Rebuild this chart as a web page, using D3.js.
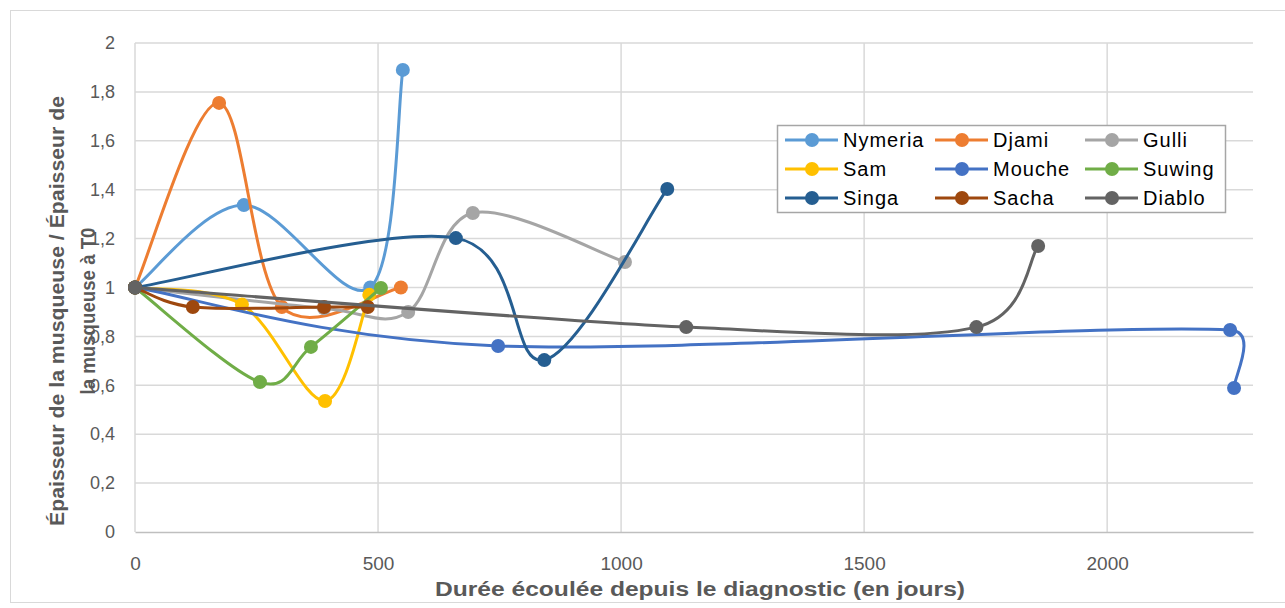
<!DOCTYPE html>
<html lang="fr">
<head>
<meta charset="utf-8">
<script src="https://cdn.jsdelivr.net/npm/d3@7"></script>
<style>
  html, body { margin: 0; padding: 0; background: #fff; }
  svg { display: block; font-family: "Liberation Sans", Arial, sans-serif; }
</style>
</head>
<body>
<svg id="chart" width="1285" height="608"></svg>
<script>
// Relative thickness of the muscularis over time, one array of [days, ratio] per animal
const nymeria = [[0, 1], [224, 1.337], [484, 1.0], [551, 1.89]];
const djami   = [[0, 1], [173, 1.755], [302, 0.92], [547, 1.0]];
const gulli   = [[0, 1], [389, 0.915], [562, 0.90], [695, 1.305], [1008, 1.104]];
const sam     = [[0, 1], [220, 0.93], [391, 0.536], [482, 0.97]];
const mouche  = [[0, 1], [747, 0.761], [2253, 0.826], [2261, 0.589]];
const suwing  = [[0, 1], [257, 0.613], [362, 0.757], [506, 0.998]];
const singa   = [[0, 1], [660, 1.202], [842, 0.703], [1095, 1.403]];
const sacha   = [[0, 1], [119, 0.92], [389, 0.92], [479, 0.92]];
const diablo  = [[0, 1], [1134, 0.838], [1731, 0.838], [1858, 1.17]];

const seriesNames  = ["Nymeria", "Djami", "Gulli", "Sam", "Mouche", "Suwing", "Singa", "Sacha", "Diablo"];
const seriesData   = [nymeria, djami, gulli, sam, mouche, suwing, singa, sacha, diablo];
const seriesColors = ["#5B9BD5", "#ED7D31", "#A5A5A5", "#FFC000", "#4472C4", "#70AD47", "#255E91", "#9E480E", "#636363"];

const xTicks = [0, 500, 1000, 1500, 2000];
const yTicks = [0, 0.2, 0.4, 0.6, 0.8, 1, 1.2, 1.4, 1.6, 1.8, 2];

const xTitle = "Durée écoulée depuis le diagnostic (en jours)";
const yTitleLines = ["Épaisseur  de la musqueuse / Épaisseur de", "la musqueuse à T0"];

const svg = d3.select("#chart");
const plot = { left: 135, right: 1253, top: 43, bottom: 532 };

const x = d3.scaleLinear().domain([0, 2300]).range([plot.left, plot.right]);
const y = d3.scaleLinear().domain([0, 2]).range([plot.bottom, plot.top]);

const fmt = d => String(d3.format("~g")(d)).replace(".", ",");
const FONT = "'Liberation Sans', Arial, sans-serif";

// Smoothed spline: Catmull-Rom tangents with handles capped to half the segment length
function smoothCurve(context) {
  let pts;
  return {
    areaStart() {}, areaEnd() {},
    lineStart() { pts = []; },
    point(px, py) { pts.push([+px, +py]); },
    lineEnd() {
      const n = pts.length;
      if (!n) return;
      context.moveTo(pts[0][0], pts[0][1]);
      if (n === 1) return;
      const tan = pts.map((p, i) => {
        const a = pts[Math.max(0, i - 1)], b = pts[Math.min(n - 1, i + 1)];
        return [(b[0] - a[0]) / 6, (b[1] - a[1]) / 6];
      });
      const cap = (t, lim) => {
        const len = Math.hypot(t[0], t[1]);
        return len > lim ? [t[0] * lim / len, t[1] * lim / len] : t;
      };
      for (let i = 0; i < n - 1; i++) {
        const p = pts[i], q = pts[i + 1];
        const lim = 0.5 * Math.hypot(q[0] - p[0], q[1] - p[1]);
        const t0 = cap(tan[i], lim), t1 = cap(tan[i + 1], lim);
        context.bezierCurveTo(p[0] + t0[0], p[1] + t0[1], q[0] - t1[0], q[1] - t1[1], q[0], q[1]);
      }
    }
  };
}

// Chart frame
svg.append("rect")
  .attr("x", 10.5).attr("y", 10.5)
  .attr("width", 1300).attr("height", 592)
  .attr("fill", "none").attr("stroke", "#d9d9d9").attr("stroke-width", 1);

// Gridlines
const grid = svg.append("g");
grid.selectAll("line.h").data(yTicks.filter(d => d > 0)).join("line")
  .attr("x1", plot.left).attr("x2", plot.right)
  .attr("y1", d => y(d)).attr("y2", d => y(d))
  .attr("stroke", "#d9d9d9").attr("stroke-width", 1.5);
grid.selectAll("line.v").data(xTicks).join("line")
  .attr("y1", plot.top).attr("y2", plot.bottom)
  .attr("x1", d => x(d)).attr("x2", d => x(d))
  .attr("stroke", "#d9d9d9").attr("stroke-width", 1.5);

// Y axis
const yAxis = svg.append("g")
  .attr("transform", `translate(${plot.left},0)`)
  .call(d3.axisLeft(y).tickValues(yTicks).tickFormat(fmt).tickSize(0).tickPadding(20));
yAxis.select(".domain").remove();
yAxis.selectAll("text")
  .attr("font-family", FONT)
  .attr("font-size", 18).attr("fill", "#595959");

// X axis
const xAxis = svg.append("g")
  .attr("transform", `translate(0,${plot.bottom})`)
  .call(d3.axisBottom(x).tickValues(xTicks).tickFormat(d3.format("d")).tickSize(0).tickPadding(25));
xAxis.select(".domain").attr("stroke", "#bfbfbf").attr("stroke-width", 1.5);
xAxis.selectAll(".tick text")
  .attr("font-family", FONT)
  .attr("font-size", 19).attr("fill", "#595959");

// Series: smoothed line followed by its markers
const line = d3.line()
  .x(d => x(d[0])).y(d => y(d[1]))
  .curve(smoothCurve);

const series = svg.append("g");
seriesData.forEach((pts, i) => {
  const g = series.append("g");
  g.append("path")
    .attr("d", line(pts))
    .attr("fill", "none")
    .attr("stroke", seriesColors[i])
    .attr("stroke-width", 3)
    .attr("stroke-linejoin", "round")
    .attr("stroke-linecap", "round");
  g.selectAll("circle").data(pts).join("circle")
    .attr("cx", d => x(d[0])).attr("cy", d => y(d[1]))
    .attr("r", 7)
    .attr("fill", seriesColors[i]);
});

// Axis titles
svg.append("text")
  .attr("x", 700).attr("y", 596)
  .attr("text-anchor", "middle")
  .attr("font-family", FONT)
  .attr("font-weight", "bold").attr("font-size", 20)
  .attr("fill", "#595959")
  .attr("textLength", 530).attr("lengthAdjust", "spacingAndGlyphs")
  .text(xTitle);

const yTitleX = [64, 95];
const yTitleLen = [430, 167];
yTitleLines.forEach((t, i) => {
  svg.append("text")
    .attr("transform", `translate(${yTitleX[i]},311) rotate(-90)`)
    .attr("text-anchor", "middle")
    .attr("font-family", FONT)
    .attr("font-weight", "bold").attr("font-size", 20)
    .attr("fill", "#595959")
    .attr("textLength", yTitleLen[i]).attr("lengthAdjust", "spacingAndGlyphs")
    .text(t);
});

// Legend
const legend = svg.append("g");
legend.append("rect")
  .attr("x", 777.5).attr("y", 125.5).attr("width", 448).attr("height", 87)
  .attr("fill", "#fff").attr("stroke", "#a6a6a6").attr("stroke-width", 1.5);
const colX = [785, 935, 1085];
const rowY = [140, 169, 198];
seriesNames.forEach((name, i) => {
  const cx = colX[i % 3], cy = rowY[Math.floor(i / 3)];
  const item = legend.append("g").attr("transform", `translate(${cx},${cy})`);
  item.append("line").attr("x1", 0).attr("x2", 53).attr("y1", 0).attr("y2", 0)
    .attr("stroke", seriesColors[i]).attr("stroke-width", 3);
  item.append("circle").attr("cx", 27).attr("cy", 0).attr("r", 7).attr("fill", seriesColors[i]);
  item.append("text")
    .attr("x", 58).attr("y", 0).attr("dy", "0.35em")
    .attr("font-family", FONT)
    .attr("font-size", 20).attr("letter-spacing", 1)
    .attr("fill", "#000")
    .text(name);
});
</script>
</body>
</html>
